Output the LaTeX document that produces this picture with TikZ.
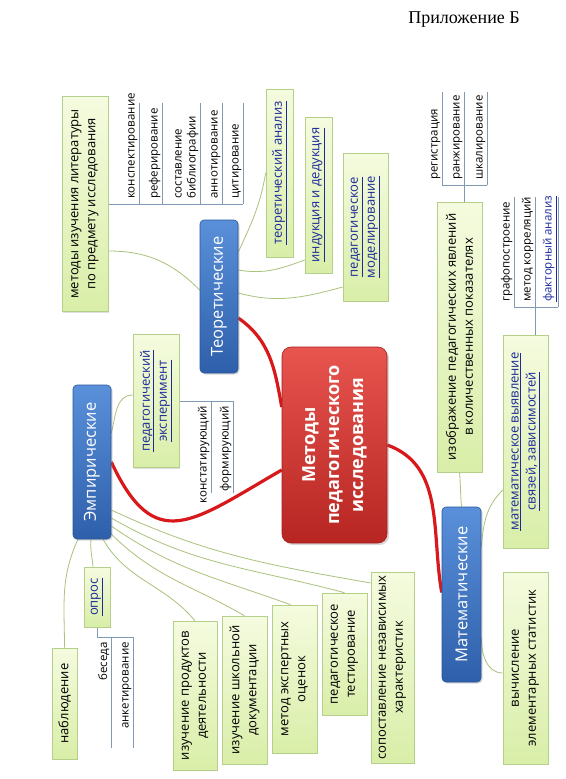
\documentclass[tikz,border=0pt]{standalone}
\usepackage{fontspec}
\setmainfont{Open Sans}
\newfontfamily\titlefont{Liberation Serif}
\usetikzlibrary{shadows,backgrounds}

\definecolor{leafA}{HTML}{F5FBDF}
\definecolor{leafB}{HTML}{D9EEA8}
\definecolor{leafline}{HTML}{B3CF8A}
\definecolor{blueA}{HTML}{5A90D9}
\definecolor{blueB}{HTML}{2E5FAB}
\definecolor{blueline}{HTML}{2A5699}
\definecolor{redA}{HTML}{E8554F}
\definecolor{redB}{HTML}{B72522}
\definecolor{redline}{HTML}{A31E1C}
\definecolor{branchc}{HTML}{A9C27C}
\definecolor{redc}{HTML}{D8181B}
\definecolor{subc}{HTML}{8099B5}
\definecolor{linkc}{HTML}{1C2A9C}

\newcommand\lnk[1]{\underline{#1}}

\tikzset{
  leaf/.style={rotate=90, draw=leafline, line width=.6pt, top color=leafA, bottom color=leafB,
    align=center, inner sep=0pt, font=\fontsize{13}{17}\selectfont,
    drop shadow={shadow xshift=1.2pt, shadow yshift=-1.2pt, opacity=.25}},
  link/.style={leaf, text=linkc},
  topic/.style={rotate=90, draw=blueline, line width=.6pt, rounded corners=4pt,
    top color=blueA, bottom color=blueB, text=white, inner sep=0pt,
    font=\fontsize{16.5}{20}\selectfont,
    drop shadow={shadow xshift=1.5pt, shadow yshift=-1.5pt, opacity=.3}},
  root/.style={rotate=90, draw=redline, line width=.6pt, rounded corners=9pt,
    top color=redA, bottom color=redB, text=white, align=center, inner sep=0pt,
    font=\bfseries\fontsize{18}{24}\selectfont,
    drop shadow={shadow xshift=2pt, shadow yshift=-2pt, opacity=.3}},
  sub/.style={rotate=90, inner xsep=5pt, inner ysep=1.5pt, align=left,
    font=\fontsize{11.5}{14}\selectfont},
  branch/.style={draw=branchc, line width=.8pt},
  trunk/.style={draw=redc, line width=3.2pt},
  subline/.style={draw=subc, line width=.7pt},
}

\begin{document}
\begin{tikzpicture}[x=1pt, y=1pt]
    \useasboundingbox (0,0) rectangle (565,-779);

    \node[font=\titlefont\fontsize{18}{22}\selectfont] (app) at (464,-20) {Приложение Б};

    % центр
    \node[root, minimum width=196, minimum height=105] (root) at (334.5,-445) {Методы\\педагогического\\исследования};

    % теоретические
    \node[topic, minimum width=153, minimum height=38] (teor) at (219,-296.5) {Теоретические};
    \node[leaf, minimum width=215, minimum height=46] (lit) at (85,-204) {методы изучения литературы\\по предмету исследования};
    \node[link, minimum width=168, minimum height=27] (tanal) at (279.5,-173) {\lnk{теоретический анализ}};
    \node[link, minimum width=156, minimum height=27] (induk) at (318.5,-195) {\lnk{индукция и дедукция}};
    \node[link, minimum width=148, minimum height=45] (pmod) at (365.5,-227) {\lnk{педагогическое}\\\lnk{моделирование}};

    \node[sub, anchor=south west] (konsp) at (139,-204) {конспектирование};
    \node[sub, anchor=south west] (refer) at (162,-204) {реферирование};
    \node[sub, anchor=south west] (sostav) at (200,-204) {составление\\библиографии};
    \node[sub, anchor=south west] (annot) at (222,-204) {аннотирование};
    \node[sub, anchor=south west] (citir) at (243,-204) {цитирование};

    % эмпирические
    \node[topic, minimum width=154, minimum height=38] (emp) at (92,-462) {Эмпирические};
    \node[link, minimum width=133, minimum height=46] (pexp) at (156,-401) {\lnk{педагогический}\\\lnk{эксперимент}};
    \node[leaf, minimum width=111, minimum height=25] (nabl) at (64.5,-703.5) {наблюдение};
    \node[link, minimum width=60, minimum height=26] (opros) at (97,-597) {\lnk{опрос}};
    \node[leaf, minimum width=149, minimum height=44] (izprod) at (195,-695.5) {изучение продуктов\\деятельности};
    \node[leaf, minimum width=148, minimum height=45] (izshk) at (244.5,-690) {изучение школьной\\документации};
    \node[leaf, minimum width=148, minimum height=45] (expert) at (294.5,-679) {метод экспертных\\оценок};
    \node[leaf, minimum width=122, minimum height=45] (ptest) at (344.5,-654) {педагогическое\\тестирование};
    \node[leaf, minimum width=191, minimum height=43] (sopost) at (392.5,-667.5) {сопоставление независимых\\характеристик};

    \node[sub, anchor=south east] (konst) at (211,-401) {констатирующий};
    \node[sub, anchor=south east] (form) at (233,-401) {формирующий};
    \node[sub, anchor=south east] (besed) at (111,-637) {беседа};
    \node[sub, anchor=south east] (ankt) at (133,-637) {анкетирование};

    % математические
    \node[topic, minimum width=175, minimum height=39] (mat) at (461.5,-594.5) {Математические};
    \node[leaf, minimum width=270, minimum height=45] (izobr) at (459.5,-337) {изображение педагогических явлений\\в количественных показателях};
    \node[link, minimum width=213, minimum height=45] (mvyav) at (525.5,-441.5) {\lnk{математическое выявление}\\\lnk{связей, зависимостей}};
    \node[leaf, minimum width=192, minimum height=45] (vych) at (525.5,-668) {вычисление\\элементарных статистик};

    \node[sub, anchor=south west] (reg) at (442,-185) {регистрация};
    \node[sub, anchor=south west] (ranzh) at (464,-185) {ранжирование};
    \node[sub, anchor=south west] (shkal) at (487,-185) {шкалирование};
    \node[sub, anchor=south west] (graf) at (514,-307) {графопостроение};
    \node[sub, anchor=south west] (korr) at (535,-307) {метод корреляций};
    \node[sub, anchor=south west, text=linkc] (fakt) at (558,-307) {\lnk{факторный анализ}};

    \begin{scope}[on background layer]
        \fill[white] (0,0) rectangle (565,-779);

        % красные ветви
        \draw[trunk] ([yshift=-21.5]teor.south) to[out=-35, in=100] ([yshift=38]root.north);
        \draw[trunk] (emp.south) to[out=-65, in=210, looseness=1.55] ([yshift=-25]root.north);
        \draw[trunk] (root.south) to[out=-20, in=100] ([yshift=2]mat.north);

        % теоретические
        \draw[branch] ([yshift=6.5]teor.north) to[out=135, in=0] ([yshift=-47]lit.south);
        \draw[branch] ([yshift=44.5]teor.south) to[out=65, in=-100] (tanal.north);
        \draw[branch] ([yshift=26.5]teor.south) to[out=-10, in=200] ([yshift=-65]induk.north);
        \draw[branch] ([yshift=3.5]teor.south) to[out=-15, in=195] ([yshift=-60]pmod.north);

        % эмпирические
        \draw[branch] ([yshift=29]emp.south) to[out=75, in=180] ([yshift=6]pexp.north);
        \draw[branch] ([xshift=-14]emp.west) to[out=-115, in=90] (nabl.east);
        \draw[branch] ([xshift=-1]emp.west) to[out=-95, in=95] ([xshift=-4]opros.east);
        \draw[branch] ([xshift=11]emp.west) to[out=-60, in=130] (izprod.east);
        \draw[branch] ([yshift=-72]emp.south) to[out=-45, in=150] (izshk.east);
        \draw[branch] ([yshift=-64]emp.south) to[out=-35, in=160] ([xshift=-4]expert.east);
        \draw[branch] ([yshift=-56]emp.south) to[out=-30, in=165] (ptest.east);
        \draw[branch] ([yshift=-48]emp.south) to[out=-25, in=170] ([yshift=84.5]sopost.north);

        % математические
        \draw[branch] (mat.east) to[out=95, in=-85] (izobr.west);
        \draw[branch] ([yshift=47.5]mat.south) to[out=85, in=225] ([yshift=-48.5]mvyav.north);
        \draw[branch] ([yshift=-42.5]mat.south) to[out=-90, in=180] ([yshift=-5]vych.north);

        % подпункты
        \foreach \s in {konsp,refer,sostav,annot,citir} \draw[subline] (\s.south west) -- ++(0,101);
        \draw[subline] (lit.south) -- (citir.south west);
        \foreach \s in {konst,form} \draw[subline] (\s.south east) -- ++(0,-92);
        \draw[subline] (pexp.south) -- (form.south east);
        \foreach \s in {besed,ankt} \draw[subline] (\s.south east) -- ++(0,-111);
        \draw[subline] (opros.west) |- (ankt.south east);
        \foreach \s in {reg,ranzh,shkal} \draw[subline] (\s.south west) -- ++(0,93);
        \draw[subline] (reg.south west) -- (shkal.south west);
        \draw[subline] (ranzh.south west) -- (ranzh.south west |- izobr.east);
        \foreach \s in {graf,korr,fakt} \draw[subline] (\s.south west) -- ++(0,110);
        \draw[subline] (graf.south west) -- (fakt.south west);
        \draw[subline] (korr.south west) -- (korr.south west |- mvyav.east);
    \end{scope}
\end{tikzpicture}
\end{document}
